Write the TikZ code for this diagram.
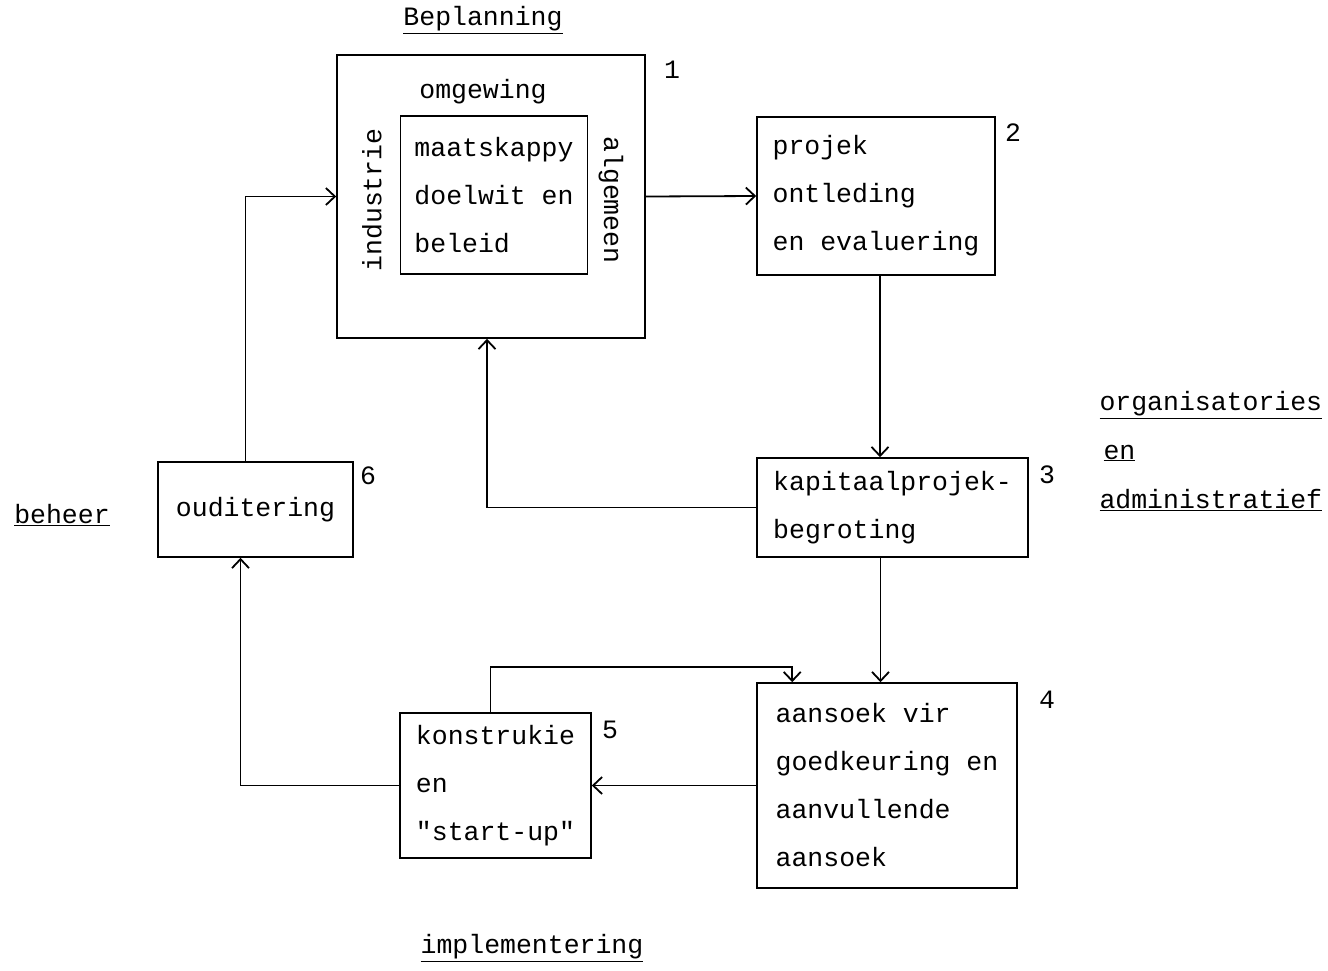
\documentclass[tikz,border=0pt]{standalone}
\usepackage{fontspec}
\newfontfamily\tik{Liberation Mono}
\usetikzlibrary{arrows.meta}
\tikzset{
    blok/.style = {draw, line width=1.6pt, inner sep=0pt, align=left,
        font=\tik\fontsize{26.5}{48}\selectfont},
    teks/.style = {font=\tik\fontsize{26.5}{32}\selectfont},
    pyl/.style = {draw, line width=1.8pt, -{Straight Barb[length=9pt,width=17pt]}},
}
\begin{document}
\begin{tikzpicture}[x=1pt, y=-1pt]
    \useasboundingbox (0,0) rectangle (1328,970);
    % blokke
    \node[blok, minimum width=308pt, minimum height=283pt] (buite) at (491,196.5) {};
    \node[blok, minimum width=187pt, minimum height=158pt] (binne) at (494,195)
        {maatskappy\\doelwit en\\beleid};
    \node[blok, minimum width=238pt, minimum height=158pt] (projek) at (876,196)
        {projek\\ontleding\\en evaluering};
    \node[blok, minimum width=271pt, minimum height=99pt] (begroting) at (892.5,507.5)
        {kapitaalprojek-\\begroting};
    \node[blok, minimum width=260pt, minimum height=205pt] (aansoek) at (887,785.5)
        {aansoek vir\\goedkeuring en\\aanvullende\\aansoek};
    \node[blok, minimum width=191pt, minimum height=145pt] (konstruksie) at (495.5,785.5)
        {konstrukie\\en\\"start-up"};
    \node[blok, minimum width=195pt, minimum height=95pt] (ouditering) at (255.5,509.5)
        {ouditering};
    % teks in die omgewing-blok
    \node[teks] (omgewing) at (483,92) {omgewing};
    \node[teks, rotate=90] (industrie) at (372,200) {industrie};
    \node[teks, rotate=-90] (algemeen) at (611,200) {algemeen};
    % nommers
    \node[teks] (n1) at (672,70) {1};
    \node[teks] (n2) at (1013,133) {2};
    \node[teks] (n3) at (1047,475) {3};
    \node[teks] (n4) at (1047,700) {4};
    \node[teks] (n5) at (610,730) {5};
    \node[teks] (n6) at (368,476) {6};
    % opskrifte
    \node[teks] (beplanning) at (483,20) {\underline{Beplanning}};
    \node[teks] (beheer) at (62,515) {\underline{beheer}};
    \node[teks] (implementering) at (532,948) {\underline{implementering}};
    \node[teks, anchor=west] (organisatories) at (1096,405) {\underline{organisatories}};
    \node[teks, anchor=west] (en) at (1100,453) {\underline{en}};
    \node[teks, anchor=west] (administratief) at (1096,500) {\underline{administratief}};
    % pyle
    \draw[pyl] (buite.east) -- (projek.west);
    \draw[pyl] ([xshift=4pt]projek.south) -- ([xshift=4pt]projek.south |- begroting.north);
    \draw[pyl] (begroting.west) -| ([xshift=-4pt]buite.south);
    \draw[pyl] ([xshift=-12pt]begroting.south) -- ([xshift=-12pt]begroting.south |- aansoek.north);
    \draw[pyl] (aansoek.west) -- (konstruksie.east);
    \draw[pyl] ([xshift=-5pt]konstruksie.north) -- ++(0,-45) -| ([xshift=36pt]aansoek.north west);
    \draw[pyl] (konstruksie.west) -| ([xshift=-15pt]ouditering.south);
    \draw[pyl] ([xshift=-10pt]ouditering.north) |- (buite.west);
\end{tikzpicture}
\end{document}
